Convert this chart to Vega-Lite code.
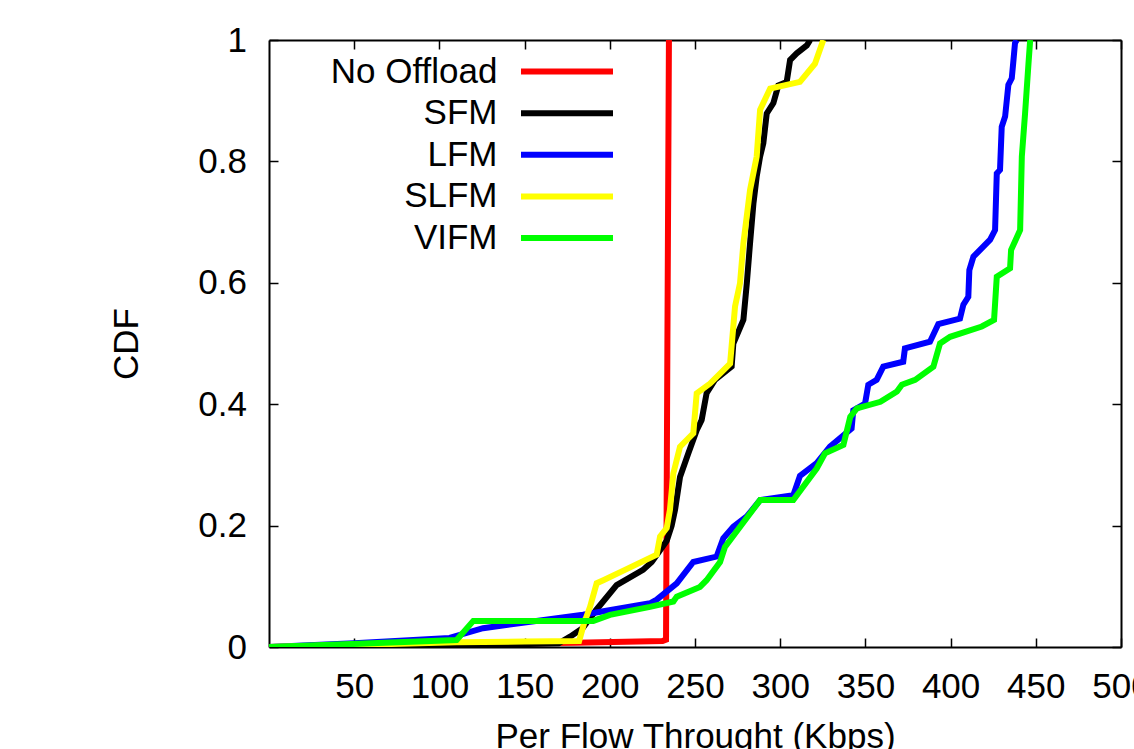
{
 "$schema": "https://vega.github.io/schema/vega-lite/v6.json",
 "width": 852, "height": 607,
 "autosize": {"type": "none"},
 "padding": {"left": 269, "top": 40, "right": 13, "bottom": 102},
 "background": "white",
 "config": {
  "view": {"stroke": null},
  "font": "Liberation Sans",
  "axis": {"domainColor": "black", "domainWidth": 2, "tickColor": "black", "tickWidth": 1.5, "tickSize": -9,
   "labelFont": "Liberation Sans", "labelFontSize": 35, "labelColor": "black",
   "titleFont": "Liberation Sans", "titleFontSize": 35, "titleFontWeight": "normal", "titleColor": "black",
   "grid": false, "labelFlush": false, "labelOverlap": false}
 },
 "data": {"values": [
  {"s": "No Offload", "x": 0, "y": 0},
  {"s": "No Offload", "x": 50, "y": 0.002},
  {"s": "No Offload", "x": 120, "y": 0.005},
  {"s": "No Offload", "x": 180, "y": 0.007},
  {"s": "No Offload", "x": 231, "y": 0.01},
  {"s": "No Offload", "x": 233, "y": 0.012},
  {"s": "No Offload", "x": 233.8, "y": 0.5},
  {"s": "No Offload", "x": 234.7, "y": 1.0},

  {"s": "SFM", "x": 0, "y": 0},
  {"s": "SFM", "x": 60, "y": 0.001},
  {"s": "SFM", "x": 120, "y": 0.003},
  {"s": "SFM", "x": 170, "y": 0.006},
  {"s": "SFM", "x": 176.7, "y": 0.017},
  {"s": "SFM", "x": 184, "y": 0.031},
  {"s": "SFM", "x": 192, "y": 0.061},
  {"s": "SFM", "x": 204, "y": 0.102},
  {"s": "SFM", "x": 219.5, "y": 0.127},
  {"s": "SFM", "x": 224.6, "y": 0.14},
  {"s": "SFM", "x": 233.4, "y": 0.175},
  {"s": "SFM", "x": 236.3, "y": 0.2},
  {"s": "SFM", "x": 238.3, "y": 0.226},
  {"s": "SFM", "x": 241.2, "y": 0.28},
  {"s": "SFM", "x": 246.1, "y": 0.319},
  {"s": "SFM", "x": 251, "y": 0.357},
  {"s": "SFM", "x": 253.9, "y": 0.374},
  {"s": "SFM", "x": 256.8, "y": 0.418},
  {"s": "SFM", "x": 261.7, "y": 0.44},
  {"s": "SFM", "x": 271.5, "y": 0.462},
  {"s": "SFM", "x": 272.5, "y": 0.5},
  {"s": "SFM", "x": 278.4, "y": 0.539},
  {"s": "SFM", "x": 280.4, "y": 0.599},
  {"s": "SFM", "x": 282.3, "y": 0.665},
  {"s": "SFM", "x": 284.3, "y": 0.731},
  {"s": "SFM", "x": 286.2, "y": 0.775},
  {"s": "SFM", "x": 288.2, "y": 0.808},
  {"s": "SFM", "x": 290.1, "y": 0.83},
  {"s": "SFM", "x": 292.1, "y": 0.879},
  {"s": "SFM", "x": 296, "y": 0.896},
  {"s": "SFM", "x": 298.9, "y": 0.925},
  {"s": "SFM", "x": 303.8, "y": 0.931},
  {"s": "SFM", "x": 305.8, "y": 0.967},
  {"s": "SFM", "x": 309.7, "y": 0.978},
  {"s": "SFM", "x": 315.6, "y": 0.991},
  {"s": "SFM", "x": 317.6, "y": 1.0},

  {"s": "LFM", "x": 0, "y": 0},
  {"s": "LFM", "x": 50, "y": 0.006},
  {"s": "LFM", "x": 106, "y": 0.015},
  {"s": "LFM", "x": 125.6, "y": 0.031},
  {"s": "LFM", "x": 184.3, "y": 0.053},
  {"s": "LFM", "x": 223.6, "y": 0.072},
  {"s": "LFM", "x": 227.5, "y": 0.078},
  {"s": "LFM", "x": 239.3, "y": 0.105},
  {"s": "LFM", "x": 249, "y": 0.14},
  {"s": "LFM", "x": 262.7, "y": 0.149},
  {"s": "LFM", "x": 266.6, "y": 0.179},
  {"s": "LFM", "x": 272.5, "y": 0.198},
  {"s": "LFM", "x": 280.4, "y": 0.215},
  {"s": "LFM", "x": 288.2, "y": 0.242},
  {"s": "LFM", "x": 307.7, "y": 0.25},
  {"s": "LFM", "x": 311.6, "y": 0.282},
  {"s": "LFM", "x": 321.4, "y": 0.303},
  {"s": "LFM", "x": 329.2, "y": 0.33},
  {"s": "LFM", "x": 341.9, "y": 0.36},
  {"s": "LFM", "x": 342.9, "y": 0.39},
  {"s": "LFM", "x": 349.8, "y": 0.401},
  {"s": "LFM", "x": 351.7, "y": 0.432},
  {"s": "LFM", "x": 356.6, "y": 0.44},
  {"s": "LFM", "x": 360.5, "y": 0.462},
  {"s": "LFM", "x": 372.2, "y": 0.47},
  {"s": "LFM", "x": 373.2, "y": 0.492},
  {"s": "LFM", "x": 387.9, "y": 0.503},
  {"s": "LFM", "x": 392.8, "y": 0.532},
  {"s": "LFM", "x": 405.5, "y": 0.541},
  {"s": "LFM", "x": 407.5, "y": 0.564},
  {"s": "LFM", "x": 410.4, "y": 0.577},
  {"s": "LFM", "x": 411, "y": 0.621},
  {"s": "LFM", "x": 413.4, "y": 0.643},
  {"s": "LFM", "x": 423.2, "y": 0.671},
  {"s": "LFM", "x": 426.1, "y": 0.687},
  {"s": "LFM", "x": 427.1, "y": 0.78},
  {"s": "LFM", "x": 429, "y": 0.786},
  {"s": "LFM", "x": 430, "y": 0.857},
  {"s": "LFM", "x": 432, "y": 0.874},
  {"s": "LFM", "x": 433.9, "y": 0.926},
  {"s": "LFM", "x": 435.9, "y": 0.937},
  {"s": "LFM", "x": 436.8, "y": 0.964},
  {"s": "LFM", "x": 437.8, "y": 0.995},
  {"s": "LFM", "x": 438.8, "y": 1.0},

  {"s": "SLFM", "x": 0, "y": 0},
  {"s": "SLFM", "x": 60, "y": 0.004},
  {"s": "SLFM", "x": 110, "y": 0.008},
  {"s": "SLFM", "x": 150, "y": 0.009},
  {"s": "SLFM", "x": 182, "y": 0.01},
  {"s": "SLFM", "x": 183, "y": 0.02},
  {"s": "SLFM", "x": 185, "y": 0.04},
  {"s": "SLFM", "x": 188.4, "y": 0.066},
  {"s": "SLFM", "x": 192.3, "y": 0.105},
  {"s": "SLFM", "x": 196.2, "y": 0.11},
  {"s": "SLFM", "x": 208.9, "y": 0.127},
  {"s": "SLFM", "x": 227.5, "y": 0.152},
  {"s": "SLFM", "x": 229.5, "y": 0.182},
  {"s": "SLFM", "x": 233.4, "y": 0.196},
  {"s": "SLFM", "x": 235.3, "y": 0.226},
  {"s": "SLFM", "x": 237.3, "y": 0.286},
  {"s": "SLFM", "x": 241.2, "y": 0.33},
  {"s": "SLFM", "x": 249.0, "y": 0.352},
  {"s": "SLFM", "x": 251, "y": 0.418},
  {"s": "SLFM", "x": 258.8, "y": 0.434},
  {"s": "SLFM", "x": 270.6, "y": 0.467},
  {"s": "SLFM", "x": 273.5, "y": 0.561},
  {"s": "SLFM", "x": 276.4, "y": 0.599},
  {"s": "SLFM", "x": 278.4, "y": 0.665},
  {"s": "SLFM", "x": 282.3, "y": 0.753},
  {"s": "SLFM", "x": 286.2, "y": 0.808},
  {"s": "SLFM", "x": 288.2, "y": 0.885},
  {"s": "SLFM", "x": 294.1, "y": 0.92},
  {"s": "SLFM", "x": 311.6, "y": 0.931},
  {"s": "SLFM", "x": 320.4, "y": 0.961},
  {"s": "SLFM", "x": 325.3, "y": 1.0},

  {"s": "VIFM", "x": 0, "y": 0},
  {"s": "VIFM", "x": 60, "y": 0.006},
  {"s": "VIFM", "x": 110.1, "y": 0.0115},
  {"s": "VIFM", "x": 119.9, "y": 0.043},
  {"s": "VIFM", "x": 190.3, "y": 0.043},
  {"s": "VIFM", "x": 200.1, "y": 0.053},
  {"s": "VIFM", "x": 223.6, "y": 0.066},
  {"s": "VIFM", "x": 237.3, "y": 0.075},
  {"s": "VIFM", "x": 239.3, "y": 0.083},
  {"s": "VIFM", "x": 252.9, "y": 0.099},
  {"s": "VIFM", "x": 256.8, "y": 0.11},
  {"s": "VIFM", "x": 264.7, "y": 0.14},
  {"s": "VIFM", "x": 267.6, "y": 0.165},
  {"s": "VIFM", "x": 288.2, "y": 0.242},
  {"s": "VIFM", "x": 307.7, "y": 0.242},
  {"s": "VIFM", "x": 321.4, "y": 0.294},
  {"s": "VIFM", "x": 326.3, "y": 0.319},
  {"s": "VIFM", "x": 337.1, "y": 0.333},
  {"s": "VIFM", "x": 341.1, "y": 0.379},
  {"s": "VIFM", "x": 345, "y": 0.393},
  {"s": "VIFM", "x": 358.8, "y": 0.404},
  {"s": "VIFM", "x": 368.5, "y": 0.421},
  {"s": "VIFM", "x": 371.4, "y": 0.432},
  {"s": "VIFM", "x": 379.2, "y": 0.44},
  {"s": "VIFM", "x": 389.9, "y": 0.462},
  {"s": "VIFM", "x": 393.8, "y": 0.5},
  {"s": "VIFM", "x": 399.7, "y": 0.511},
  {"s": "VIFM", "x": 418.3, "y": 0.528},
  {"s": "VIFM", "x": 425.5, "y": 0.539},
  {"s": "VIFM", "x": 427.1, "y": 0.61},
  {"s": "VIFM", "x": 434.9, "y": 0.624},
  {"s": "VIFM", "x": 435.5, "y": 0.654},
  {"s": "VIFM", "x": 440.8, "y": 0.687},
  {"s": "VIFM", "x": 441.8, "y": 0.808},
  {"s": "VIFM", "x": 443.7, "y": 0.879},
  {"s": "VIFM", "x": 445.7, "y": 0.961},
  {"s": "VIFM", "x": 446.7, "y": 1.0}
 ]},
 "layer": [
  {
   "mark": {"type": "line", "strokeWidth": 6, "clip": true},
   "encoding": {
    "x": {"field": "x", "type": "quantitative", "scale": {"domain": [0, 500], "nice": false, "zero": false},
     "axis": {"orient": "bottom", "values": [50, 100, 150, 200, 250, 300, 350, 400, 450, 500], "labelPadding": 31.4, "title": "Per Flow Throught (Kbps)", "titlePadding": 15}},
    "y": {"field": "y", "type": "quantitative", "scale": {"domain": [0, 1], "nice": false},
     "axis": {"orient": "left", "values": [0, 0.2, 0.4, 0.6, 0.8, 1], "format": "~g", "labelPadding": 31.5, "title": "CDF", "titlePadding": 53}},
    "color": {"field": "s", "type": "nominal",
     "scale": {"domain": ["No Offload", "SFM", "LFM", "SLFM", "VIFM"], "range": ["#ff0000", "#000000", "#0000ff", "#ffff00", "#00ff00"]},
     "legend": {"orient": "none", "legendX": 246, "legendY": 14.1, "title": null, "symbolType": "M-4,0H4", "symbolSize": 529, "symbolStrokeWidth": 6,
      "labelAlign": "right", "labelOffset": -87, "symbolOffset": 34.5, "labelFontSize": 35, "labelFont": "Liberation Sans", "labelColor": "black", "labelLimit": 500,
      "rowPadding": 5.6, "padding": 0}}
   }
  },
  {
   "mark": {"type": "line", "opacity": 0},
   "encoding": {
    "x": {"field": "x", "type": "quantitative", "axis": {"orient": "top", "labels": false, "title": null, "values": [50, 100, 150, 200, 250, 300, 350, 400, 450, 500]}},
    "y": {"field": "y", "type": "quantitative", "axis": {"orient": "right", "labels": false, "title": null, "values": [0, 0.2, 0.4, 0.6, 0.8, 1]}}
   }
  }
 ],
 "resolve": {"axis": {"x": "independent", "y": "independent"}}
}
